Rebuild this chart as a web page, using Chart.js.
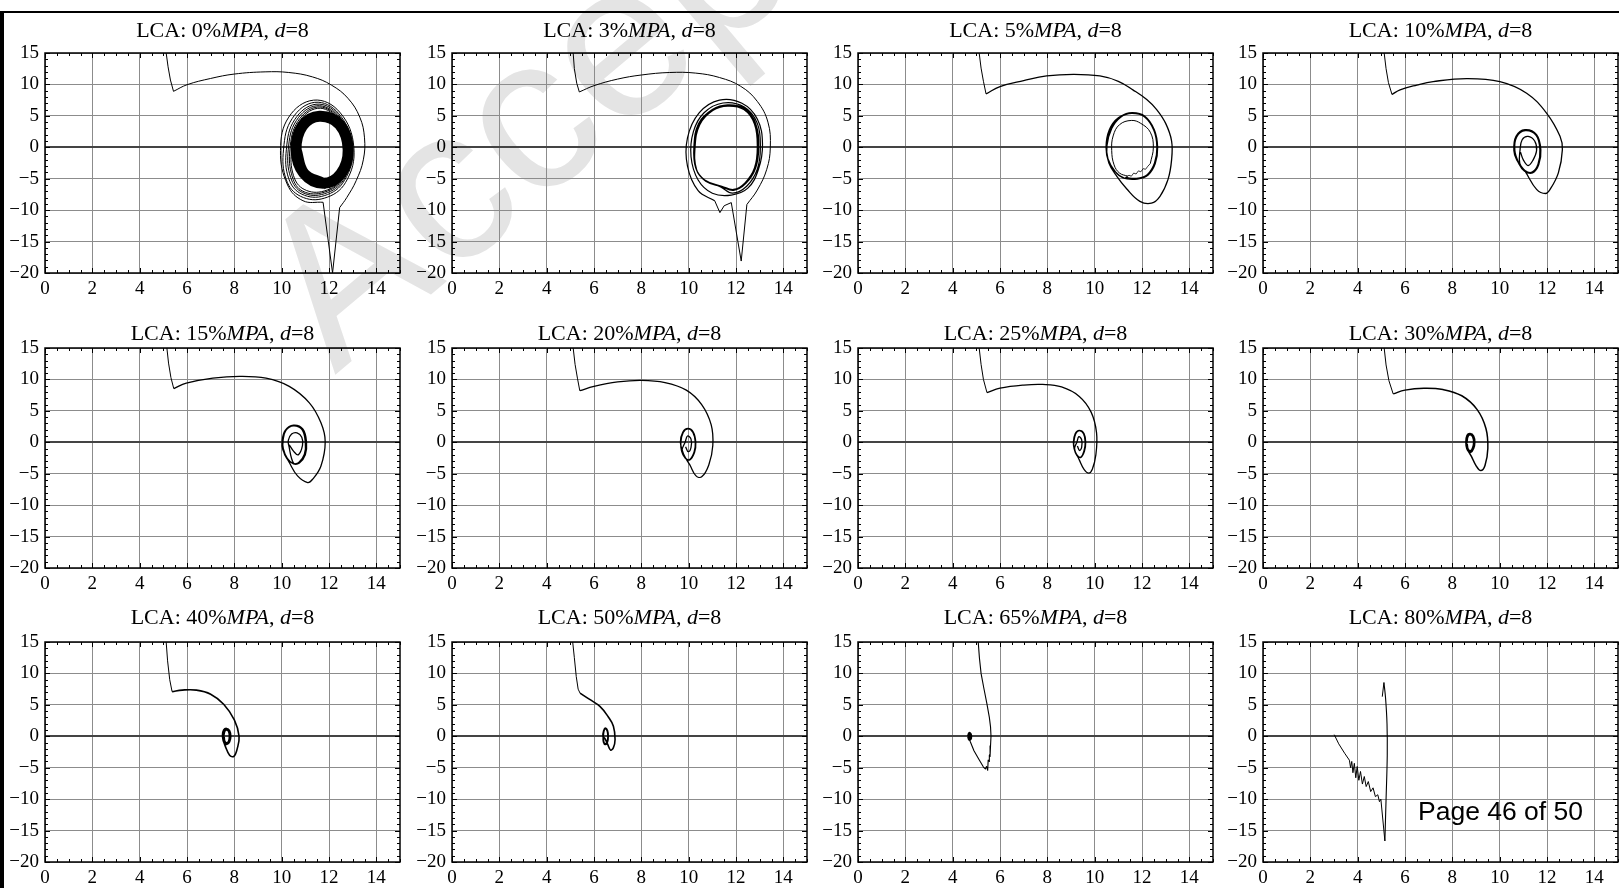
<!DOCTYPE html>
<html><head><meta charset="utf-8">
<script src="https://cdn.jsdelivr.net/npm/chart.js@4.4.0/dist/chart.umd.min.js"></script>
<style>
html,body{margin:0;padding:0;background:#fff;overflow:hidden;width:1619px;height:888px;position:relative}
#wm{position:absolute;left:335px;top:189px;font-family:'Liberation Sans',Arial,sans-serif;font-size:220px;line-height:220px;color:#e4e4e4;white-space:nowrap;transform-origin:0 186px;transform:rotate(-40deg);z-index:0}
.pn{position:absolute;z-index:1}
.tt{position:absolute;width:355px;text-align:center;font-family:'Liberation Serif','Times New Roman',serif;font-size:22px;line-height:22px;color:#000;white-space:nowrap;z-index:2}
#page{position:absolute;left:1418px;top:798px;font-family:'Liberation Sans',Arial,sans-serif;font-size:26.5px;line-height:26.5px;color:#000;z-index:3}
#bl{position:absolute;left:0;top:11px;width:4px;height:877px;background:#000;z-index:4}
#bt{position:absolute;left:0;top:11px;width:1619px;height:2px;background:#000;z-index:4}
</style></head><body>
<div id="wm">Accepted Manuscript</div>
<div id="bl"></div><div id="bt"></div>
<div id="page">Page 46 of 50</div>
<script>
// ---------- axis ticks & labels ----------
const xTicks=[0,2,4,6,8,10,12,14];
const yTicks=[-20,-15,-10,-5,0,5,10,15];
const mpaLevels=['0','3','5','10','15','20','25','30','40','50','65','80'];

// ---------- panel 1 : 0% ----------
const p1Fall=[[5.12,15],[5.2,12.8],[5.3,10.7],[5.43,8.9]];
const p1Arc=[[5.43,8.9],[6.0,9.95],[7.0,10.95],[8.0,11.65],[9.3,12.0],[10.3,11.9],[11.3,11.2],[12.1,9.9],[12.8,7.8],[13.3,4.8],[13.5,1.5],[13.45,-2.0],[13.15,-5.3],[12.75,-8.0],[12.45,-9.6]];
const p1Spike=[[12.45,-9.6],[12.15,-20],[11.75,-8.75]];
const p1Loops=[[11.75,-8.75],[10.9,-8.5],[10.25,-6.0],[9.95,-0.5],[10.3,4.8],[11.35,7.5],[12.45,5.6],[13.05,0],[12.7,-5.6],[11.8,-8.1],
[10.8,-7.8],[10.2,-5.2],[10.08,-0.3],[10.45,4.6],[11.4,7.15],[12.4,5.4],[13.0,0],[12.65,-5.3],[11.8,-7.7],
[10.85,-7.45],[10.3,-5.0],[10.2,-0.3],[10.55,4.4],[11.45,6.85],[12.38,5.2],[12.97,0],[12.63,-5.1],[11.8,-7.4],
[10.88,-7.2],[10.38,-4.8],[10.28,-0.3],[10.62,4.25],[11.47,6.6],[12.36,5.0],[12.95,0],[12.6,-4.95],[11.8,-7.15],
[10.9,-7.0],[10.45,-4.7],[10.35,-0.3],[10.68,4.1],[11.5,6.4],[12.34,4.85],[12.93,0],[12.58,-4.85],[11.8,-6.95],
[10.95,-6.7],[10.5,-4.5],[10.42,-0.3],[10.72,3.95],[11.52,6.2],[12.32,4.7],[12.9,0],[12.55,-4.7],[11.8,-6.6]];
const p1Band=[[11.75,-5.73],[10.94,-4.15],[10.61,-0.4],[10.88,3.4],[11.6,4.95],[12.45,3.6],[12.81,-0.4],[12.5,-4.2],[11.75,-5.73],[10.94,-4.15],[10.61,-0.4]];

// ---------- panel 2 : 3% ----------
const p2Fall=[[5.12,15],[5.17,12.5],[5.27,10.2],[5.38,8.8]];
const p2Arc=[[5.38,8.8],[6.0,9.8],[7.0,10.85],[8.0,11.5],[9.2,11.9],[10.3,11.8],[11.3,11.1],[12.2,9.7],[12.9,7.3],[13.35,4.0],[13.45,0],[13.3,-3.5],[12.9,-6.8],[12.46,-9.1]];
const p2Spike=[[12.46,-9.1],[12.22,-18.1],[11.8,-8.8],[11.5,-9.3],[11.32,-10.4],[11.1,-8.5]];
const p2Loops=[[11.1,-8.5],[10.4,-6.9],[9.95,-3.0],[9.95,1.5],[10.45,5.5],[11.3,7.5],[12.25,7.0],[12.9,4.5],[13.12,0.5],[12.95,-3.5],[12.5,-6.5],[11.8,-7.6],
[11.0,-7.3],[10.4,-5.2],[10.1,-1.5],[10.2,2.5],[10.65,5.5],[11.45,7.05],[12.35,6.4],[12.9,3.8],[13.03,0],[12.9,-3.5],[12.45,-6.2],[11.85,-7.3],
[11.35,-6.3],[10.7,-5.3],[10.32,-3.5],[10.25,0],[10.45,3.7],[11.0,5.9],[11.65,6.65],[12.35,6.1],[12.8,3.8],[12.93,0],[12.8,-3.3],[12.4,-5.7],[11.9,-6.75],
[11.4,-6.2],[10.68,-5.2],[10.3,-3.3],[10.22,0],[10.42,3.8],[11.0,6.0],[11.65,6.75],[12.38,6.15],[12.83,3.8],[12.96,0],[12.83,-3.3],[12.42,-5.75],[11.9,-6.85],
[11.38,-6.25],[10.72,-5.4],[10.34,-3.6],[10.27,0],[10.47,3.6],[11.02,5.85],[11.65,6.55],[12.33,6.0],[12.78,3.7],[12.9,0],[12.78,-3.3],[12.38,-5.65],[11.9,-6.7],[11.4,-6.2]];

// ---------- panel 3 : 5% ----------
const p3Fall=[[5.12,15],[5.2,12.6],[5.3,10.5],[5.41,8.5]];
const p3Arc=[[5.41,8.5],[6.0,9.66],[7.0,10.6],[7.97,11.35],[9.1,11.6],[10.22,11.35],[11.0,10.5],[11.63,9.1],[12.2,7.6],[12.62,6.0],[13.0,3.8],[13.25,1.0],[13.25,-2.0],[13.1,-5.1],[12.76,-7.8],[12.4,-8.9],[11.91,-8.6],[11.35,-6.6],[10.93,-4.6],[10.6,-2.5],
[10.48,0],[10.62,2.8],[11.0,4.7],[11.56,5.44],[12.1,4.9],[12.5,2.8],[12.65,0],[12.55,-2.6],[12.25,-4.4],[11.8,-5.0],[11.2,-4.85],[10.85,-3.8],[10.55,-1.8],
[10.5,0.5],[10.7,3.2],[11.1,4.9],[11.58,5.5],[12.12,4.95],[12.52,2.8],[12.66,0],[12.56,-2.6],[12.26,-4.4],[11.8,-5.05],[11.25,-4.9],[10.88,-3.9],[10.56,-1.8],
[10.52,0.3],[10.72,3.0],[11.1,4.8],[11.57,5.4],[12.1,4.85],[12.5,2.7],[12.63,0],[12.53,-2.5],[12.22,-4.35],[11.75,-4.95],[11.3,-4.8]];
const p3Jag=[[11.3,-4.8],[11.45,-4.45],[11.55,-4.6],[11.65,-4.1],[11.75,-4.25],[11.85,-3.75],[11.95,-3.9],[12.05,-3.4],[12.15,-3.5],[12.25,-3.0],[12.35,-2.6]];
const p3Inner=[[12.35,-2.6],[12.48,0],[12.35,2.4],[11.95,3.8],[11.55,4.27],[11.05,3.6],[10.78,1.8],[10.72,-0.5],[10.82,-2.8],[11.05,-4.1],[11.4,-4.6]];

// ---------- panel 4 : 10% ----------
const p4Fall=[[5.12,15],[5.2,12.5],[5.3,10.3],[5.45,8.4]];
const p4Arc=[[5.45,8.4],[5.79,9.14],[6.5,9.9],[7.19,10.45],[8.6,10.93],[10.01,10.45],[11.14,8.6],[11.98,5.44],[12.55,1.74],[12.65,-0.37],[12.48,-4.07],[12.13,-6.7],[11.94,-7.35],[11.56,-6.7],[11.07,-3.8],[10.72,-2.0],
[10.6,-0.5],[10.69,1.74],[11.07,2.8],[11.56,2.0],[11.74,-0.4],[11.65,-2.8],[11.39,-4.07],[11.05,-3.8],[10.82,-2.7],
[10.62,-0.6],[10.71,1.7],[11.08,2.7],[11.55,1.95],[11.72,-0.4],[11.63,-2.75],[11.38,-4.0],[11.05,-3.75],[10.82,-2.6],
[10.64,-0.5],[10.72,1.65],[11.08,2.65],[11.54,1.9],[11.7,-0.4],[11.62,-2.7],[11.37,-3.95],[11.07,-3.7],[10.85,-2.55],
[10.86,-0.5],[10.95,1.2],[11.2,1.74],[11.48,1.0],[11.56,-0.5],[11.4,-2.1],[11.2,-2.9],[11.0,-2.0],[10.88,-0.8]];

// ---------- panel 5 : 15% ----------
const p5Fall=[[5.15,15],[5.22,12.6],[5.32,10.3],[5.44,8.55]];
const p5Arc=[[5.44,8.55],[5.97,9.4],[7.09,10.2],[8.22,10.5],[9.34,10.2],[10.32,8.9],[11.17,6.28],[11.66,3.1],[11.84,0.1],[11.66,-3.76],[11.31,-5.87],[11.1,-6.4],[10.67,-5.35],[10.32,-3.2],[10.05,-1.2],
[10.02,0.2],[10.15,1.9],[10.5,2.73],[10.9,2.1],[11.05,0],[11.0,-2.0],[10.75,-3.3],[10.5,-3.45],[10.22,-2.6],[10.05,-1.1],
[10.04,0.3],[10.17,1.95],[10.5,2.68],[10.88,2.05],[11.03,0],[10.98,-1.95],[10.74,-3.25],[10.5,-3.4],[10.24,-2.55],[10.07,-1.0],
[10.06,0.3],[10.18,1.9],[10.5,2.62],[10.86,2.0],[11.0,0],[10.96,-1.9],[10.72,-3.2],[10.5,-3.3],
[10.3,-0.5],[10.28,0.3],[10.42,1.3],[10.65,1.5],[10.85,0.8],[10.88,-0.5],[10.7,-2.0],[10.5,-1.4],[10.32,-0.4]];

// ---------- panel 6 : 20% ----------
const p6Fall=[[5.12,15],[5.2,12.4],[5.3,10.2],[5.4,8.2]];
const p6Arc=[[5.4,8.2],[6.0,8.9],[7.0,9.6],[8.0,9.85],[9.0,9.5],[9.9,8.3],[10.55,6.0],[10.95,2.8],[11.02,-0.5],[10.85,-3.6],[10.55,-5.5],[10.3,-5.3],[10.05,-3.6],[9.8,-2.0],
[9.65,0],[9.75,1.6],[9.97,2.2],[10.2,1.6],[10.3,0],[10.25,-1.6],[10.05,-2.8],[9.85,-2.5],[9.7,-1.4],
[9.67,0],[9.77,1.55],[9.97,2.15],[10.18,1.55],[10.28,0],[10.23,-1.55],[10.04,-2.75],[9.85,-2.45],[9.72,-1.3],
[9.85,0],[9.95,1.0],[10.1,0.5],[10.1,-0.8],[9.98,-1.5],[9.87,-0.7]];

// ---------- panel 7 : 25% ----------
const p7Fall=[[5.12,15],[5.2,12.4],[5.3,10.0],[5.45,7.9]];
const p7Arc=[[5.45,7.9],[6.0,8.6],[7.0,9.1],[7.8,9.2],[8.6,8.8],[9.35,7.3],[9.85,4.8],[10.08,1.5],[10.05,-2.0],[9.9,-4.3],[9.75,-4.9],[9.55,-4.3],[9.35,-2.8],[9.15,-1.2],
[9.1,0],[9.18,1.4],[9.35,1.9],[9.55,1.4],[9.62,0],[9.57,-1.4],[9.42,-2.4],[9.25,-2.1],[9.13,-1.0],
[9.12,0],[9.2,1.35],[9.35,1.85],[9.53,1.35],[9.6,0],[9.55,-1.35],[9.42,-2.35],[9.26,-2.05],[9.15,-1.0],
[9.25,0],[9.33,0.9],[9.45,0.4],[9.45,-0.8],[9.36,-1.3],[9.27,-0.6]];

// ---------- panel 8 : 30% ----------
const p8Fall=[[5.12,15],[5.2,12.3],[5.32,9.8],[5.5,7.7]];
const p8Arc=[[5.5,7.7],[6.0,8.3],[6.8,8.6],[7.6,8.4],[8.4,7.4],[9.05,5.2],[9.42,2.2],[9.5,-1.0],[9.38,-3.7],[9.2,-4.5],[9.0,-3.7],[8.8,-2.2],[8.62,-1.0],
[8.57,0],[8.62,1.1],[8.75,1.4],[8.9,1.0],[8.95,0],[8.9,-1.0],[8.78,-1.6],[8.65,-1.3],[8.58,-0.5],
[8.59,0],[8.64,1.05],[8.75,1.35],[8.88,0.95],[8.93,0],[8.88,-0.95],[8.77,-1.5],[8.66,-1.25],[8.6,-0.4],
[8.62,0],[8.66,0.9],[8.76,1.2],[8.86,0.85],[8.9,0],[8.86,-0.85],[8.77,-1.35],[8.67,-1.1],[8.63,-0.3]];

// ---------- panel 9 : 40% ----------
const p9Fall=[[5.12,15],[5.18,12.0],[5.27,9.0],[5.37,7.1]];
const p9Arc=[[5.37,7.1],[5.8,7.35],[6.4,7.35],[7.0,6.7],[7.55,5.1],[8.0,2.6],[8.2,0],[8.12,-2.0],[7.98,-3.2],[7.8,-3.0],[7.62,-1.6],[7.52,-0.5],
[7.5,0.2],[7.55,1.0],[7.67,1.25],[7.8,0.9],[7.85,0],[7.8,-0.9],[7.68,-1.3],[7.56,-1.0],[7.51,-0.3],
[7.53,0.2],[7.57,0.95],[7.67,1.15],[7.78,0.85],[7.82,0],[7.78,-0.85],[7.68,-1.2],[7.58,-0.95],[7.54,-0.2],
[7.56,0.2],[7.6,0.8],[7.67,1.0],[7.76,0.75],[7.79,0],[7.76,-0.75],[7.68,-1.05],[7.6,-0.8],[7.57,-0.1]];

// ---------- panel 10 : 50% ----------
const p10Fall=[[5.1,15],[5.17,12.5],[5.25,9.5],[5.33,7.5],[5.41,6.87]];
const p10Arc=[[5.41,6.87],[5.8,5.9],[6.25,4.75],[6.6,3.1],[6.82,1.6],[6.89,-0.5],[6.82,-1.8],[6.7,-2.2],[6.58,-1.3],[6.47,-0.4],
[6.38,0],[6.41,0.9],[6.48,1.3],[6.57,0.9],[6.6,0],[6.57,-0.9],[6.48,-1.3],[6.4,-0.9],
[6.39,0],[6.42,0.85],[6.48,1.2],[6.56,0.85],[6.59,0],[6.56,-0.85],[6.48,-1.2],[6.41,-0.85],[6.4,0]];

// ---------- panel 11 : 65% ----------
const p11Path=[[5.08,15],[5.13,12.5],[5.2,10.0],[5.32,7.6],[5.44,5.3],[5.55,3.0],[5.6,1.5],[5.62,0],[5.6,-1.5],[5.58,-3.2],[5.55,-3.0],[5.55,-4.0],[5.5,-3.8],[5.48,-5.4],[5.43,-4.8],[5.38,-5.2],[5.3,-4.9],[5.1,-3.6],[4.9,-2.3],[4.75,-0.9],[4.68,-0.2],[4.7,0.4],[4.76,0.3],[4.74,-0.3],[4.68,0.0]];
const p11Blob=[[4.66,0],[4.7,0.5],[4.76,0.3],[4.77,-0.3],[4.7,-0.5],[4.66,0]];

// ---------- panel 12 : 80% ----------
const p12Zig=[[3.01,0.26],[3.2,-1.2],[3.45,-2.7],[3.65,-3.8],[3.7,-5.0],[3.75,-4.0],[3.8,-5.8],[3.86,-4.3],[3.92,-6.6],[3.98,-4.8],[4.05,-7.0],[4.12,-5.6],[4.2,-7.6],[4.28,-6.4],[4.36,-8.0],[4.45,-7.2],[4.55,-8.8],[4.65,-8.2],[4.75,-9.6],[4.85,-9.3],[4.92,-10.4],[4.98,-10.0],[5.15,-16.65]];
const p12Up=[[5.15,-16.65],[5.2,-10],[5.25,-3],[5.24,2],[5.18,6],[5.11,8.55]];
const p12Hook=[[5.11,8.55],[5.04,6.3]];

// segment: [points, tension, lineWidth]
const panelSegs=[
 [[p1Fall,0,1],[p1Arc,0.4,1],[p1Spike,0,1],[p1Loops,0.4,1],[p1Band,0.4,11]],
 [[p2Fall,0,1],[p2Arc,0.4,1],[p2Spike,0,1],[p2Loops,0.4,1.2]],
 [[p3Fall,0,1],[p3Arc,0.4,1.3],[p3Jag,0,0.8],[p3Inner,0.4,1]],
 [[p4Fall,0,1],[p4Arc,0.4,1.3]],
 [[p5Fall,0,1],[p5Arc,0.4,1.3]],
 [[p6Fall,0,1],[p6Arc,0.4,1.3]],
 [[p7Fall,0,1],[p7Arc,0.4,1.3]],
 [[p8Fall,0,1],[p8Arc,0.4,1.5]],
 [[p9Fall,0,1],[p9Arc,0.4,1.6]],
 [[p10Fall,0,1],[p10Arc,0.4,1.6]],
 [[p11Path,0,1.1],[p11Blob,0.4,2.5]],
 [[p12Zig,0,1],[p12Up,0.4,1.1],[p12Hook,0,1]]
];

const colLeft=[45,452,858,1263];
const rowTop=[53,348,642];
const titleTop=[19,321.5,605.5];
const PW=355, PH=220, PADL=45, PADT=20, PADR=6, XH=30;

const framePlugin={id:'frame',afterDatasetsDraw(chart){
  const {ctx,chartArea:a,scales:{x,y}}=chart;
  ctx.save();ctx.strokeStyle='#000';ctx.lineWidth=1;ctx.beginPath();
  for(let i=0;i<=30;i++){const v=i*0.5;const px=Math.round(x.getPixelForValue(v))+0.5;const L=(i%4===0)?5:3;
    ctx.moveTo(px,a.bottom);ctx.lineTo(px,a.bottom-L);ctx.moveTo(px,a.top);ctx.lineTo(px,a.top+L);}
  for(let v=-20;v<=15;v++){const py=Math.round(y.getPixelForValue(v))+0.5;const L=(v%5===0)?5:3;
    ctx.moveTo(a.left,py);ctx.lineTo(a.left+L,py);ctx.moveTo(a.right,py);ctx.lineTo(a.right-L,py);}
  ctx.stroke();
  ctx.lineWidth=1.5;ctx.strokeRect(a.left,a.top,a.right-a.left,a.bottom-a.top);
  ctx.restore();
}};

Chart.defaults.font.family="'Liberation Serif','Times New Roman',serif";
Chart.defaults.font.size=19;
Chart.defaults.color='#000';

mpaLevels.forEach((lvl,i)=>{
  const r=Math.floor(i/4), c=i%4;
  const t=document.createElement('div');t.className='tt';
  t.style.left=colLeft[c]+'px';t.style.top=titleTop[r]+'px';
  t.innerHTML='LCA: '+lvl+'%<i>MPA</i>, <i>d</i>=8';
  document.body.appendChild(t);
  const cv=document.createElement('canvas');cv.className='pn';
  const W=PADL+PW+PADR, H=PADT+PH+XH;
  cv.width=W;cv.height=H;cv.style.width=W+'px';cv.style.height=H+'px';
  cv.style.left=(colLeft[c]-PADL)+'px';cv.style.top=(rowTop[r]-PADT)+'px';
  document.body.appendChild(cv);
  const datasets=panelSegs[i].map(([pts,ten,lw])=>({
    data:pts.map(p=>({x:p[0],y:p[1]})),showLine:true,tension:ten,borderWidth:lw,
    borderColor:'#000',backgroundColor:'#000',pointRadius:0,fill:false,borderJoinStyle:'round'}));
  new Chart(cv,{type:'scatter',data:{datasets},
    options:{responsive:false,animation:false,devicePixelRatio:1,
      layout:{padding:{left:0,top:PADT,right:PADR,bottom:0}},
      plugins:{legend:{display:false},tooltip:{enabled:false}},
      scales:{
        x:{type:'linear',min:0,max:15,
          afterBuildTicks:s=>{s.ticks=xTicks.map(v=>({value:v}));},
          afterFit:s=>{s.height=XH;},
          ticks:{padding:5,maxRotation:0,autoSkip:false,callback:v=>String(v)},
          grid:{color:'#8c8c8c',lineWidth:1,drawTicks:false},
          border:{display:false}},
        y:{type:'linear',min:-20,max:15,
          afterBuildTicks:s=>{s.ticks=yTicks.map(v=>({value:v}));},
          afterFit:s=>{s.width=PADL;},
          ticks:{padding:6,autoSkip:false,callback:v=>v<0?'\u2212'+Math.abs(v):String(v)},
          grid:{color:ctx=>(ctx.tick&&ctx.tick.value===0)?'#444':'#8c8c8c',lineWidth:ctx=>(ctx.tick&&ctx.tick.value===0)?2:1,drawTicks:false},
          border:{display:false}}
      }},
    plugins:[framePlugin]});
});
</script>
</body></html>
